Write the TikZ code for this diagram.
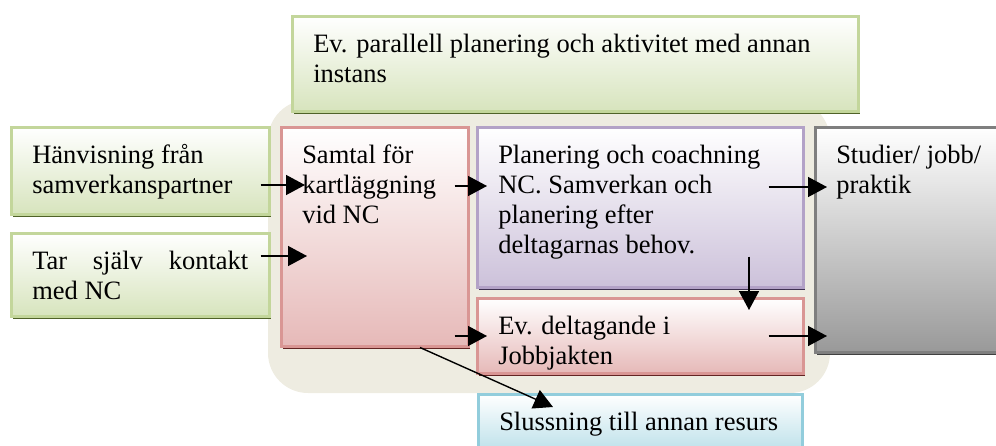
\documentclass[tikz,border=0pt]{standalone}
\usepackage{fontspec}
\setmainfont{Liberation Serif}
\usetikzlibrary{arrows.meta,calc,shadows}

\definecolor{olivebd}{HTML}{C3D69B}
\definecolor{olivefill}{HTML}{D7E4BD}
\definecolor{oliveshd}{HTML}{4F6228}
\definecolor{redbd}{HTML}{D99694}
\definecolor{redfill}{HTML}{E6B9B8}
\definecolor{redshd}{HTML}{632423}
\definecolor{lilacbd}{HTML}{B3A2C7}
\definecolor{lilacfill}{HTML}{CCC1DA}
\definecolor{lilacshd}{HTML}{3F3151}
\definecolor{greybd}{HTML}{7F7F7F}
\definecolor{greyfill}{HTML}{999999}
\definecolor{greyshd}{HTML}{404040}
\definecolor{aquabd}{HTML}{92CDDC}
\definecolor{aquafill}{HTML}{B7DEE8}
\definecolor{aquashd}{HTML}{205867}
\definecolor{backdrop}{HTML}{EEECE1}

% text of a box: width, height (in px), top aligned
\newcommand{\boxtext}[4][\raggedright]{\parbox[c][\dimexpr#3pt-30pt\relax][t]{\dimexpr#2pt-42pt\relax}{\hyphenpenalty=10000 #1\strut #4}}

\begin{document}
\begin{tikzpicture}[
    x=1pt, y=-1pt,
    font=\fontsize{26.5}{30}\selectfont,
    box/.style={line width=2.5pt, anchor=north west, inner xsep=21pt, inner ysep=15pt, top color=white},
    greenbox/.style={box, draw=olivebd, bottom color=olivefill, drop shadow={shadow xshift=1.5pt, shadow yshift=-3pt, opacity=1, fill=oliveshd}},
    redbox/.style={box, draw=redbd, bottom color=redfill, drop shadow={shadow xshift=1.5pt, shadow yshift=-3pt, opacity=1, fill=redshd}},
    lilacbox/.style={box, draw=lilacbd, bottom color=lilacfill, drop shadow={shadow xshift=1.5pt, shadow yshift=-3pt, opacity=1, fill=lilacshd}},
    greybox/.style={box, draw=greybd, bottom color=greyfill, drop shadow={shadow xshift=1.5pt, shadow yshift=-3pt, opacity=1, fill=greyshd}},
    aquabox/.style={box, draw=aquabd, bottom color=aquafill, drop shadow={shadow xshift=1.5pt, shadow yshift=-3pt, opacity=1, fill=aquashd}},
    arrow/.style={-{Triangle[length=19pt,width=20pt]}, line width=1.4pt}
]
    \useasboundingbox (0,0) rectangle (996,445);
    \clip (0,0) rectangle (996,445);

    % Backdrop
    \fill[backdrop, rounded corners=40pt] (268,100) rectangle (830,393);

    % Top
    \node[greenbox] (para) at (291,15) {\boxtext{566}{95}{Ev. parallell planering och aktivitet med annan instans}};

    % Entry
    \node[greenbox] (hanv) at (10,126) {\boxtext{258}{87}{Hänvisning från samverkanspartner}};
    \node[greenbox] (tar) at (10,232) {\boxtext[\tolerance=10000 ]{258}{83}{Tar själv kontakt med NC}};

    % Work at NC
    \node[redbox] (samtal) at (280,126) {\boxtext{187}{219}{Samtal för kartläggning vid NC}};
    \node[lilacbox] (plan) at (476,126) {\boxtext{326}{160}{Planering och coachning NC. Samverkan och planering efter\\ deltagarnas behov.}};
    \node[redbox] (jakt) at (476,297) {\boxtext{326}{75}{Ev. deltagande i Jobbjakten}};

    % Exits
    \node[greybox] (studier) at (814,126) {\boxtext{200}{225}{Studier/ jobb/ praktik}};
    \node[aquabox] (sluss) at (477,393) {\boxtext{324}{62}{Slussning till annan resurs}};

    % Routing
    \draw[arrow] ($(hanv.north east)+(-10,59)$) -- ($(samtal.north west)+(25,59)$);
    \draw[arrow] ($(tar.north east)+(-10,24)$) -- ($(samtal.north west)+(27,130)$);
    \draw[arrow] ($(samtal.north east)+(-15,60)$) -- ($(plan.north west)+(11,60)$);
    \draw[arrow] ($(plan.north east)+(-36,61)$) -- ($(studier.north west)+(13,61)$);
    \draw[arrow] ($(plan.south west)+(273,-32)$) -- ($(jakt.north west)+(273,13)$);
    \draw[arrow] ($(samtal.north east)+(-15,210)$) -- ($(jakt.north west)+(11,39)$);
    \draw[arrow] ($(jakt.north east)+(-36,39)$) -- ($(studier.north west)+(13,210)$);
    \draw[arrow] ($(samtal.south west)+(140,0)$) -- ($(sluss.north west)+(76,14)$);

\end{tikzpicture}
\end{document}
